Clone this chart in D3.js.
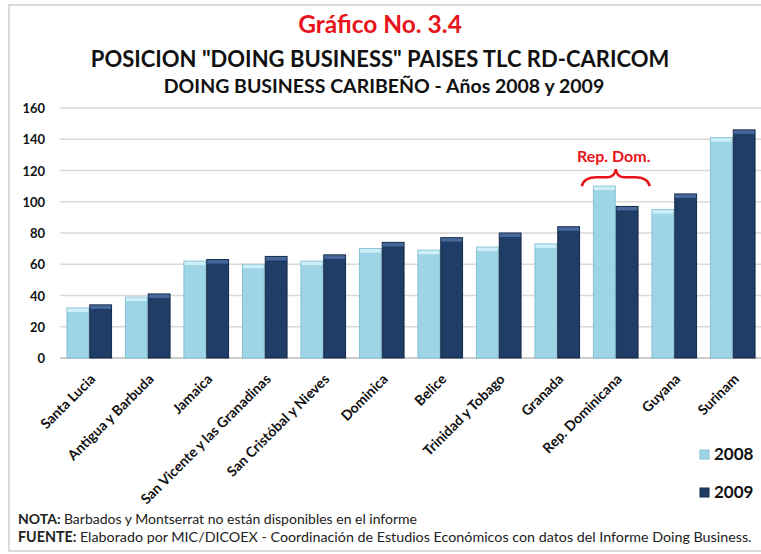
<!DOCTYPE html>
<html>
<head>
<meta charset="utf-8">
<script src="https://cdn.jsdelivr.net/npm/d3@7"></script>
<style>
  body { margin: 0; background: #fff; }
  text { font-family: Lato, "Open Sans", sans-serif; }
</style>
</head>
<body>
<script>
var categories = ["Santa Lucia", "Antigua y Barbuda", "Jamaica", "San Vicente y las Granadinas",
  "San Cristóbal y Nieves", "Dominica", "Belice", "Trinidad y Tobago", "Granada",
  "Rep. Dominicana", "Guyana", "Surinam"];
var years = ["2008", "2009"];
var values2008 = [32, 39, 62, 60, 62, 70, 69, 71, 73, 110, 95, 141];
var values2009 = [34, 41, 63, 65, 66, 74, 77, 80, 84, 97, 105, 146];
var yTicks = [0, 20, 40, 60, 80, 100, 120, 140, 160];

var w = 761, h = 554;
var colors = { "2008": "#9dd5e7", "2009": "#1f3d66" };
var caps = { "2008": "#cdf0f8", "2009": "#46689a" };
var edges = { "2008": "#86c0d3", "2009": "#142a48" };

var svg = d3.select("body").append("svg")
    .attr("width", w)
    .attr("height", h);

// outer frame
svg.append("rect")
    .attr("x", 9).attr("y", 5)
    .attr("width", w + 10).attr("height", h - 8)
    .attr("fill", "none")
    .attr("stroke", "#d0d0d0")
    .attr("stroke-width", 1.5);

// titles
svg.append("text").text("Gráfico No. 3.4")
    .attr("x", 380).attr("y", 33)
    .attr("text-anchor", "middle")
    .attr("font-size", "24.5px").attr("font-weight", "bold")
    .attr("fill", "#e8141b");
svg.append("text").text("POSICION \"DOING BUSINESS\" PAISES TLC RD-CARICOM")
    .attr("x", 380).attr("y", 67)
    .attr("text-anchor", "middle")
    .attr("font-size", "22px").attr("font-weight", "bold")
    .attr("fill", "#111");
svg.append("text").text("DOING BUSINESS CARIBEÑO - Años 2008 y 2009")
    .attr("x", 384).attr("y", 93)
    .attr("text-anchor", "middle")
    .attr("font-size", "19.5px").attr("font-weight", "bold")
    .attr("fill", "#111");

var x0 = d3.scaleBand()
    .domain(categories)
    .range([60, 762])
    .paddingInner(0.22)
    .paddingOuter(0.11);

var x1 = d3.scaleBand()
    .domain(years)
    .range([0, x0.bandwidth()])
    .padding(0);

var y = d3.scaleLinear()
    .domain([0, 160])
    .range([358, 108]);

// gridlines
svg.selectAll("line.grid")
    .data(yTicks)
    .enter()
    .append("line")
    .attr("class", "grid")
    .attr("x1", 60).attr("x2", 761)
    .attr("y1", function(d) { return y(d); })
    .attr("y2", function(d) { return y(d); })
    .attr("stroke", function(d) { return d === 0 ? "#bdbdbd" : "#d9d9d9"; })
    .attr("stroke-width", 1.5);

// y tick labels
svg.selectAll("text.ytick")
    .data(yTicks)
    .enter()
    .append("text")
    .attr("class", "ytick")
    .text(function(d) { return d; })
    .attr("x", 45)
    .attr("y", function(d) { return y(d) + 5; })
    .attr("text-anchor", "end")
    .attr("font-size", "13px").attr("font-weight", "bold")
    .attr("fill", "#111");

var rows = [];
categories.forEach(function(c, i) {
    rows.push({ cat: c, year: "2008", v: values2008[i] });
    rows.push({ cat: c, year: "2009", v: values2009[i] });
});

var bars = svg.selectAll("g.bar")
    .data(rows)
    .enter()
    .append("g")
    .attr("class", "bar");

bars.append("rect")
    .attr("x", function(d) { return x0(d.cat) + x1(d.year) + 0.5; })
    .attr("y", function(d) { return y(d.v); })
    .attr("width", x1.bandwidth() - 1)
    .attr("height", function(d) { return y(0) - y(d.v); })
    .attr("fill", function(d) { return colors[d.year]; })
    .attr("stroke", function(d) { return edges[d.year]; })
    .attr("stroke-width", 1);

bars.append("rect")
    .attr("x", function(d) { return x0(d.cat) + x1(d.year) + 1; })
    .attr("y", function(d) { return y(d.v) + 0.5; })
    .attr("width", x1.bandwidth() - 2)
    .attr("height", 3.5)
    .attr("fill", function(d) { return caps[d.year]; });

// x labels
svg.selectAll("text.xlab")
    .data(categories)
    .enter()
    .append("text")
    .attr("class", "xlab")
    .text(function(d) { return d; })
    .attr("transform", function(d) {
        return "translate(" + (x0(d) + x0.bandwidth() / 2 + 7) + ",380) rotate(-45)";
    })
    .attr("text-anchor", "end")
    .attr("font-size", "14px").attr("font-weight", "bold")
    .attr("fill", "#111");

// Rep. Dom. annotation
var rdx = x0("Rep. Dominicana") + x0.bandwidth() / 2;
var by = y(values2008[9]);
svg.append("path")
    .attr("d", "M" + (rdx - 34) + "," + by +
        " Q" + (rdx - 32) + "," + (by - 9) + " " + (rdx - 19) + "," + (by - 9) +
        " L" + (rdx - 8) + "," + (by - 9) +
        " Q" + (rdx - 1) + "," + (by - 9) + " " + rdx + "," + (by - 17) +
        " Q" + (rdx + 1) + "," + (by - 9) + " " + (rdx + 8) + "," + (by - 9) +
        " L" + (rdx + 19) + "," + (by - 9) +
        " Q" + (rdx + 32) + "," + (by - 9) + " " + (rdx + 34) + "," + by)
    .attr("fill", "none")
    .attr("stroke", "#e8141b")
    .attr("stroke-width", 2.5);
svg.append("text").text("Rep. Dom.")
    .attr("x", rdx - 2).attr("y", by - 24)
    .attr("text-anchor", "middle")
    .attr("font-size", "16px").attr("font-weight", "bold")
    .attr("fill", "#e8141b");

// legend
var legend = svg.selectAll("g.legend")
    .data(years)
    .enter()
    .append("g")
    .attr("class", "legend")
    .attr("transform", function(d, i) { return "translate(700," + (450 + i * 38) + ")"; });
legend.append("rect")
    .attr("width", 9).attr("height", 9)
    .attr("fill", function(d) { return colors[d]; })
    .attr("stroke", function(d) { return edges[d]; });
legend.append("text")
    .text(function(d) { return d; })
    .attr("x", 14).attr("y", 10)
    .attr("font-size", "17px").attr("font-weight", "bold")
    .attr("fill", "#111");

// footnotes
var n1 = svg.append("text").attr("x", 18).attr("y", 524)
    .attr("font-size", "14px").attr("fill", "#222");
n1.append("tspan").attr("font-weight", "bold").text("NOTA: ");
n1.append("tspan").text("Barbados y Montserrat no están disponibles en el informe");
var n2 = svg.append("text").attr("x", 18).attr("y", 542)
    .attr("font-size", "14.3px").attr("fill", "#222");
n2.append("tspan").attr("font-weight", "bold").text("FUENTE: ");
n2.append("tspan").text("Elaborado por MIC/DICOEX - Coordinación de Estudios Económicos con datos  del Informe Doing Business.");
</script>
</body>
</html>
